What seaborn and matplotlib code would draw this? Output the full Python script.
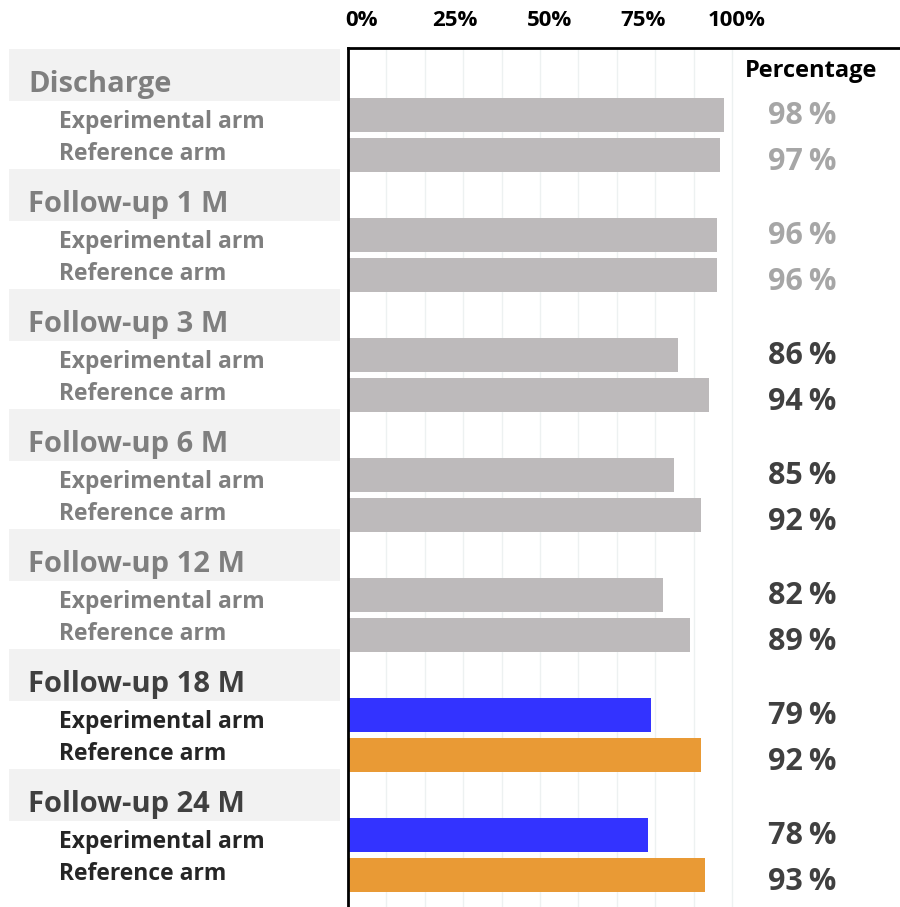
import matplotlib
matplotlib.use("Agg")
import matplotlib.pyplot as plt
import seaborn as sns
import pandas as pd
import numpy as np

# ---- data -------------------------------------------------------------
groups = ["Discharge", "Follow-up 1 M", "Follow-up 3 M", "Follow-up 6 M",
          "Follow-up 12 M", "Follow-up 18 M", "Follow-up 24 M"]
arms = ["Experimental arm", "Reference arm"]
experimental = [98, 96, 86, 85, 82, 79, 78]
reference = [97, 96, 94, 92, 89, 92, 93]
highlighted = [False, False, False, False, False, True, True]
axis_ticks = [0, 25, 50, 75, 100]
tick_labels = ["0%", "25%", "50%", "75%", "100%"]

# ---- styling ----------------------------------------------------------
GRAY_BAR = "#BDBABB"
BLUE = "#3333FF"
ORANGE = "#E99A35"
palette = {"earlier": GRAY_BAR, "Experimental arm": BLUE, "Reference arm": ORANGE}

rows = []
for g, name in enumerate(groups):
    for a, (arm, vals) in enumerate(zip(arms, [experimental, reference])):
        rows.append({
            "row": 3 * g + 1 + a,
            "pct": vals[g],
            "color": arm if highlighted[g] else "earlier",
            "group": name,
            "arm": arm,
        })
df = pd.DataFrame(rows)

sns.set_theme(style="white")
plt.rcParams["font.family"] = ["Open Sans", "DejaVu Sans"]
plt.rcParams["font.weight"] = "bold"

W, H = 900, 907
TOP = 48
fig = plt.figure(figsize=(W / 100, H / 100), dpi=100)
ax = fig.add_axes([348 / W, 0, 552 / W, (H - TOP) / H])
lab = fig.add_axes([0, 0, 348 / W, (H - TOP) / H], sharey=ax)

# rows are 40 px apart, the first header row 27 px under the top line
ylim = ((H - 75) / 40, (TOP - 75) / 40)
px_per_pct = 384 / 100
xmax = 552 / px_per_pct

# light vertical grid every 10 %
for v in np.arange(10, 101, 10):
    ax.axvline(v, color="#EDF1F1", lw=1.0, zorder=0)

sns.barplot(data=df, x="pct", y="row", hue="color", palette=palette,
            orient="h", native_scale=True, dodge=False, width=0.85,
            legend=False, ax=ax, zorder=2, linewidth=0, saturation=1)

ax.set_xlim(0, xmax)
ax.set_ylim(*ylim)
ax.set_xlabel("")
ax.set_ylabel("")
ax.set_xticks([])
ax.tick_params(left=False, labelleft=False)
for side in ("right", "bottom"):
    ax.spines[side].set_visible(False)
for side in ("left", "top"):
    ax.spines[side].set_visible(True)
    ax.spines[side].set_color("black")
    ax.spines[side].set_linewidth(2.0)

# percentage scale printed above the frame
top = ax.twiny()
top.set_xlim(-13 / 3.76, -13 / 3.76 + 552 / 3.76)
top.set_xticks(axis_ticks)
top.set_xticklabels(tick_labels, fontsize=16, fontweight="bold", color="black")
top.tick_params(axis="x", length=0, pad=12)
for s in top.spines.values():
    s.set_visible(False)

# value column
val_x = (836 - 348) / 552
trans = matplotlib.transforms.blended_transform_factory(ax.transAxes, ax.transData)
ax.text((811 - 348) / 552, 0.05, "Percentage", transform=trans, ha="center",
        va="baseline", fontsize=17, fontweight="bold", color="black")
for g in range(len(groups)):
    col = "#A6A6A6" if g < 2 else "#404040"
    for a, vals in enumerate([experimental, reference]):
        r = 3 * g + 1 + a
        dy = 0.22 if a == 0 else 0.38
        ax.text(val_x, r + dy, f"{vals[g]}\u2009%", transform=trans, ha="right",
                va="baseline", fontsize=22, fontweight="bold", color=col)

# row labels with shaded group headers
lab.set_xlim(0, 348)
lab.axis("off")
for g, name in enumerate(groups):
    r = 3 * g
    lab.add_patch(plt.Rectangle((9, r - 0.64), 331, 1.28, color="#F2F2F2",
                                lw=0, zorder=0))
    hcol = "#404040" if highlighted[g] else "#7F7F7F"
    acol = "#262626" if highlighted[g] else "#7F7F7F"
    lab.text(28, r + 0.42, name, ha="left", va="baseline", fontsize=21,
             fontweight="bold", color=hcol)
    lab.text(59, r + 1 + 0.33, arms[0], ha="left", va="baseline", fontsize=16.5,
             fontweight="bold", color=acol)
    lab.text(59, r + 2 + 0.13, arms[1], ha="left", va="baseline", fontsize=16.5,
             fontweight="bold", color=acol)

fig.savefig("out.png", dpi=100)
